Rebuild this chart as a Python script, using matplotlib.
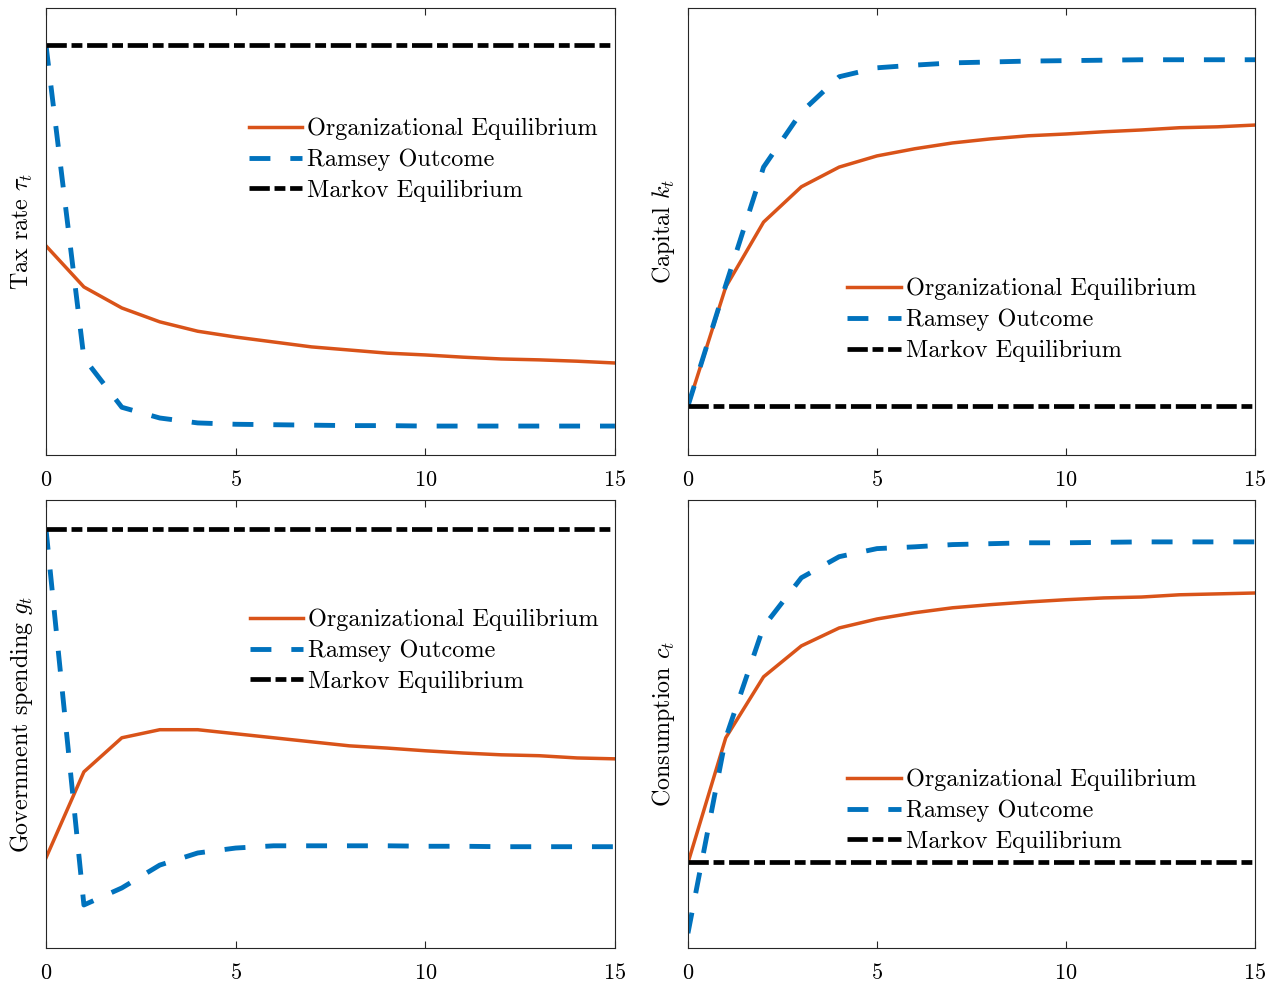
import matplotlib.pyplot as plt
import numpy as np

plt.rcParams['font.family'] = 'cmr10'
plt.rcParams['mathtext.fontset'] = 'cm'
plt.rcParams['axes.unicode_minus'] = False
plt.rcParams['axes.formatter.use_mathtext'] = True

t = np.arange(16)

# values (arbitrary units, no y ticks in the original)
tax_org = [0.468, 0.376, 0.329, 0.298, 0.277, 0.264, 0.253, 0.242, 0.235, 0.228, 0.224, 0.219, 0.215, 0.213, 0.210, 0.206]
tax_ram = [0.917, 0.217, 0.107, 0.083, 0.072, 0.069, 0.068, 0.067, 0.066, 0.066, 0.065, 0.065, 0.065, 0.065, 0.065, 0.065]
tax_mkv = [0.917] * 16

cap_org = [0.110, 0.376, 0.521, 0.600, 0.644, 0.669, 0.685, 0.698, 0.707, 0.714, 0.718, 0.723, 0.727, 0.732, 0.734, 0.738]
cap_ram = [0.110, 0.380, 0.644, 0.767, 0.846, 0.866, 0.872, 0.877, 0.879, 0.881, 0.882, 0.883, 0.884, 0.884, 0.884, 0.884]
cap_mkv = [0.110] * 16

gov_org = [0.201, 0.393, 0.469, 0.487, 0.487, 0.478, 0.469, 0.460, 0.451, 0.446, 0.440, 0.435, 0.431, 0.429, 0.424, 0.422]
gov_ram = [0.935, 0.096, 0.134, 0.185, 0.212, 0.223, 0.228, 0.228, 0.228, 0.228, 0.227, 0.227, 0.226, 0.226, 0.226, 0.226]
gov_mkv = [0.935] * 16

con_org = [0.190, 0.469, 0.605, 0.674, 0.714, 0.734, 0.748, 0.759, 0.766, 0.772, 0.777, 0.781, 0.783, 0.788, 0.790, 0.792]
con_ram = [0.033, 0.469, 0.717, 0.826, 0.873, 0.891, 0.895, 0.900, 0.902, 0.904, 0.904, 0.905, 0.906, 0.906, 0.906, 0.906]
con_mkv = [0.192] * 16

labels = ['Organizational Equilibrium', 'Ramsey Outcome', 'Markov Equilibrium']
ylabels = [r'Tax rate $\tau_t$', r'Capital $k_t$', r'Government spending $g_t$', r'Consumption $c_t$']

panels = [(tax_org, tax_ram, tax_mkv), (cap_org, cap_ram, cap_mkv),
          (gov_org, gov_ram, gov_mkv), (con_org, con_ram, con_mkv)]

# axes rectangles (fig fraction) and legend anchors (axes fraction)
rects = [[0.0362, 0.537, 0.448, 0.455], [0.5417, 0.537, 0.4465, 0.455],
         [0.0362, 0.0356, 0.448, 0.456], [0.5417, 0.0356, 0.4465, 0.456]]
leg_pos = [(0.356, 0.66), (0.281, 0.302), (0.358, 0.663), (0.281, 0.306)]

fig = plt.figure(figsize=(12.7, 9.83), dpi=100)

for i in range(4):
    ax = fig.add_axes(rects[i])
    org, ram, mkv = panels[i]
    ax.plot(t, org, c='#D95319', lw=2.5, label=labels[0])
    ax.plot(t, ram, c='#0072BD', lw=3.5, ls=(0, (4.3, 4.1)), label=labels[1])
    ax.plot(t, mkv, c='k', lw=3.4, ls=(0, (4.3, 1.0, 2.3, 1.0)), label=labels[2])
    ax.set_xlim(0, 15)
    ax.set_ylim(0, 1)
    ax.set_xticks([0, 5, 10, 15])
    ax.set_yticks([])
    ax.tick_params(axis='x', direction='in', top=True, length=5, width=0.8,
                   labelsize=16, pad=11, color='#262626')
    for s in ax.spines.values():
        s.set_color('#262626')
        s.set_linewidth(0.8)
    ax.set_ylabel(ylabels[i], fontsize=17.3, labelpad=8)
    ax.legend(loc='center left', bbox_to_anchor=leg_pos[i], frameon=False,
              fontsize=17.5, handlelength=2.2, handletextpad=0.2,
              labelspacing=0.35, borderpad=0, borderaxespad=0)

fig.savefig('out.png', dpi=100)
